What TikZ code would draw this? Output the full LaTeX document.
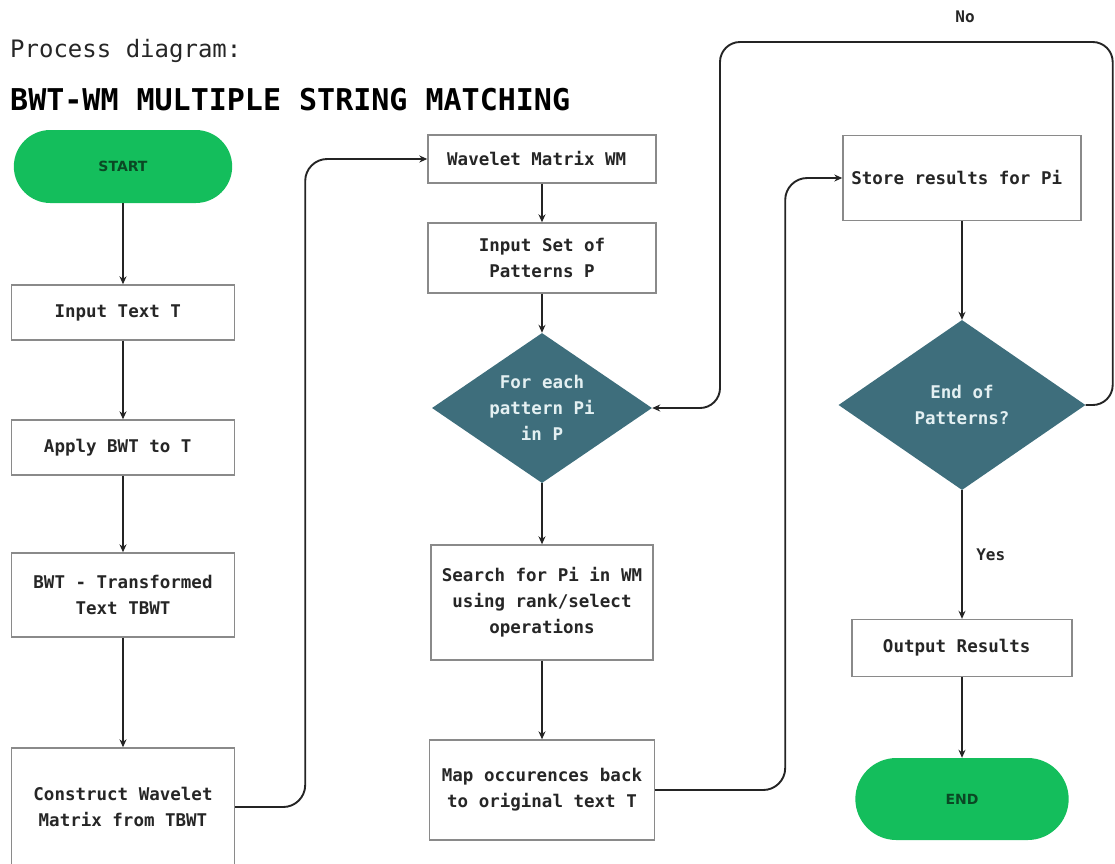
\documentclass[tikz,border=0pt]{standalone}
\usepackage{fontspec}
\newfontfamily\diagmono{DejaVu Sans Mono}
\newfontfamily\pillsans{DejaVu Sans}
\usetikzlibrary{shapes.geometric, shapes.misc, arrows.meta}

\definecolor{pillgreen}{RGB}{20,190,92}
\definecolor{pilltext}{RGB}{10,72,36}
\definecolor{decisionfill}{RGB}{62,110,124}
\definecolor{decisiontext}{RGB}{228,240,242}
\definecolor{boxline}{RGB}{138,138,138}
\definecolor{linecol}{RGB}{36,36,36}
\definecolor{textcol}{RGB}{38,38,38}

\begin{document}
\begin{tikzpicture}[x=1pt, y=-1pt,
        box/.style={draw=boxline, line width=1.4pt, fill=white, align=center,
            text=textcol, inner sep=0pt,
            font=\diagmono\bfseries\fontsize{17.5}{26}\selectfont},
        pill/.style={rounded rectangle, fill=pillgreen, draw=none, text=pilltext,
            font=\pillsans\bfseries\fontsize{14}{18}\selectfont},
        decision/.style={diamond, fill=decisionfill, draw=none, align=center,
            aspect=1.45, inner sep=0pt, text=decisiontext,
            font=\diagmono\bfseries\fontsize{17.5}{26}\selectfont},
        lbl/.style={text=textcol, font=\diagmono\bfseries\fontsize{16}{18}\selectfont},
        >={Stealth[length=8pt, width=7pt]},
        flow/.style={->, draw=linecol, line width=1.9pt}]
        \useasboundingbox (0,0) rectangle (1115,863);
        % headings
        \node[anchor=base west, text=textcol, inner sep=0pt,
            font=\diagmono\fontsize{24}{28}\selectfont] (Heading) at (10,57) {
            Process diagram:
        };
        \node[anchor=base west, text=black, inner sep=0pt,
            font=\diagmono\bfseries\fontsize{30}{34}\selectfont] (Title) at (10,110) {
            BWT-WM MULTIPLE STRING MATCHING
        };
        % first column
        \node[pill, minimum width=225, minimum height=73] (Start) at (123,166.5) {
            START
        };
        \node[box, minimum width=223, minimum height=55] (InputText) at (123,312.5) {
            Input Text T
        };
        \node[box, minimum width=223, minimum height=55] (ApplyBWT) at (123,447.5) {
            Apply BWT to T
        };
        \node[box, minimum width=223, minimum height=84] (Transformed) at (123,595) {
            BWT - Transformed\\Text TBWT
        };
        \node[box, minimum width=223, minimum height=118] (Construct) at (123,807) {
            Construct Wavelet\\Matrix from TBWT
        };
        % second column
        \node[box, minimum width=228, minimum height=48] (Wavelet) at (542,159) {
            Wavelet Matrix WM
        };
        \node[box, minimum width=228, minimum height=70] (PatternSet) at (542,258) {
            Input Set of\\Patterns P
        };
        \node[decision, minimum width=220, minimum height=150] (ForEach) at (542,408) {
            For each\\pattern Pi\\in P
        };
        \node[box, minimum width=222, minimum height=115] (Search) at (542,602.5) {
            Search for Pi in WM\\using rank/select\\operations
        };
        \node[box, minimum width=225, minimum height=100] (MapBack) at (542,790) {
            Map occurences back\\to original text T
        };
        % third column
        \node[box, minimum width=238, minimum height=85] (Store) at (962,178) {
            Store results for Pi
        };
        \node[decision, minimum width=247, minimum height=170] (EndPatterns) at (962,405) {
            End of\\Patterns?
        };
        \node[box, minimum width=220, minimum height=57] (Output) at (962,648) {
            Output Results
        };
        \node[pill, minimum width=220, minimum height=82] (End) at (962,799) {
            END
        };
        \node[lbl] (NoLabel) at (965,17) {
            No
        };
        \coordinate (NoCorner) at (720,42);
        % connectors
        \draw[flow] (Start) to (InputText);
        \draw[flow] (InputText) to (ApplyBWT);
        \draw[flow] (ApplyBWT) to (Transformed);
        \draw[flow] (Transformed) to (Construct);
        \draw[flow, rounded corners=22] (Construct.east) -- ++(70,0) |- (Wavelet.west);
        \draw[flow] (Wavelet) to (PatternSet);
        \draw[flow] (PatternSet) to (ForEach);
        \draw[flow] (ForEach) to (Search);
        \draw[flow] (Search) to (MapBack);
        \draw[flow, rounded corners=22] (MapBack.east) -- ++(130,0) |- (Store.west);
        \draw[flow] (Store) to (EndPatterns);
        \draw[flow] (EndPatterns) to node[lbl, right=10pt] {
            Yes
        } (Output);
        \draw[flow] (Output) to (End);
        \draw[flow, rounded corners=20] (EndPatterns.east) -- ++(27,0) |- (NoCorner)
            |- (ForEach.east);
    \end{tikzpicture}
\end{document}
